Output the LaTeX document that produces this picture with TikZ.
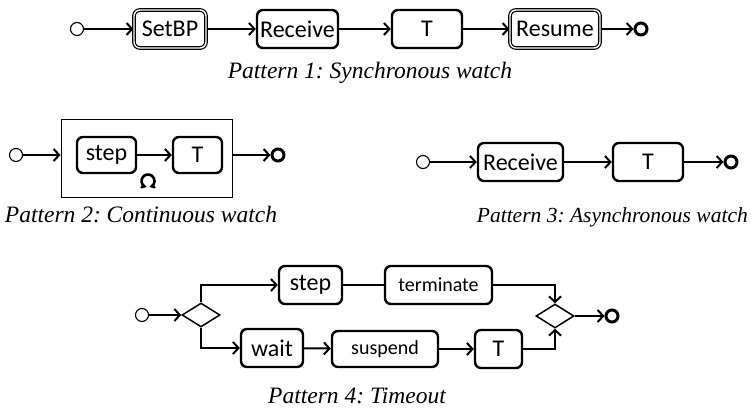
\documentclass[tikz,border=0pt]{standalone}
\usepackage{fontspec}
\setmainfont{Liberation Serif}
\newfontfamily\boxfont{Carlito}
\usetikzlibrary{arrows.meta,shapes.geometric}
\frenchspacing
\begin{document}
\begin{tikzpicture}[x=1pt,y=-1pt,
  act/.style={draw,line width=2.4pt,rounded corners=6pt,minimum height=38pt,inner sep=0pt,font=\boxfont\fontsize{24}{26}\selectfont},
  smallact/.style={act,font=\boxfont\fontsize{20}{22}\selectfont},
  dact/.style={act,line width=1.2pt,double,double distance=1.4pt},
  startnode/.style={circle,draw,line width=1.1pt,minimum size=13pt,inner sep=0pt},
  endnode/.style={circle,draw,line width=3pt,minimum size=12pt,inner sep=0pt},
  decision/.style={diamond,draw,line width=1.5pt,aspect=1.6,minimum width=38pt,minimum height=24pt,inner sep=0pt},
  conn/.style={line width=2pt},
  arr/.style={conn,-{Straight Barb[length=5.5pt,width=12pt]}},
  caption/.style={font=\itshape\fontsize{23.5}{26}\selectfont,inner sep=0pt},
  frame/.style={draw,line width=1pt}]
\useasboundingbox (0,0) rectangle (751,417);

% Pattern 1
\node[startnode] (s1) at (77,29) {};
\node[dact,minimum width=72pt] (setbp) at (170,29) {SetBP};
\node[act,minimum width=81pt] (recv1) at (297.5,29) {Receive};
\node[act,minimum width=70pt] (t1) at (427,29) {T};
\node[dact,minimum width=90pt] (resume) at (555,29) {Resume};
\node[endnode] (e1) at (641,29) {};
\draw[arr] (s1) -- (setbp);
\draw[arr] (setbp) -- (recv1);
\draw[arr] (recv1) -- (t1);
\draw[arr] (t1) -- (resume);
\draw[arr] (resume) -- (e1);
\node[caption] (c1) at (370,73) {Pattern 1: Synchronous watch};

% Pattern 2
\node[frame,minimum width=171pt,minimum height=78pt,inner sep=0pt] (fr) at (146.5,158) {};
\node[startnode] (s2) at (16,155) {};
\node[act,minimum width=59pt,minimum height=36pt] (step2) at (106.5,155) {step};
\node[act,minimum width=49pt,minimum height=36pt] (t2) at (197.5,155) {T};
\node[endnode] (e2) at (278,155) {};
\coordinate (frin) at (fr.west |- s2);
\coordinate (frout) at (fr.east |- e2);
\draw[arr] (s2) -- (frin);
\draw[arr] (step2) -- (t2);
\draw[arr] (frout) -- (e2);
\draw[line width=2.6pt,line cap=round] (141.5,187.3) -- (144.3,186.3) arc[start angle=125,end angle=415,radius=6.5] -- (154.5,187.3);
\node[caption] (c2) at (141,215) {Pattern 2: Continuous watch};

% Pattern 3
\node[startnode] (s3) at (423,162) {};
\node[act,minimum width=85pt] (recv3) at (520.5,162) {Receive};
\node[act,minimum width=70pt] (t3) at (648,162) {T};
\node[endnode] (e3) at (731,162) {};
\draw[arr] (s3) -- (recv3);
\draw[arr] (recv3) -- (t3);
\draw[arr] (t3) -- (e3);
\node[caption,font=\itshape\fontsize{21.5}{24}\selectfont,anchor=east] (c3) at (748,217) {Pattern 3: Asynchronous watch};

% Pattern 4
\node[startnode] (s4) at (142,315) {};
\node[decision] (d1) at (201,315) {};
\node[act,minimum width=63pt] (step4) at (310.5,285) {step};
\node[smallact,minimum width=107pt] (term) at (438.5,285) {terminate};
\node[act,minimum width=62pt] (wait) at (272,348) {wait};
\node[smallact,minimum width=106pt,minimum height=36pt] (susp) at (385,349) {suspend};
\node[act,minimum width=47pt] (t4) at (498.5,349) {T};
\node[decision] (d2) at (555,316) {};
\node[endnode] (e4) at (612,316) {};
\draw[arr] (s4) -- (d1);
\draw[arr] (d1.north) |- (step4.west);
\draw[arr] (d1.south) |- (wait.west);
\draw[conn] (step4) -- (term);
\draw[arr] (term.east) -| (d2.north);
\draw[arr] (wait) -- (susp);
\draw[arr] (susp) -- (t4);
\draw[arr] (t4.east) -| (d2.south);
\draw[arr] (d2) -- (e4);
\node[caption] (c4) at (357,396) {Pattern 4: Timeout};
\end{tikzpicture}
\end{document}
